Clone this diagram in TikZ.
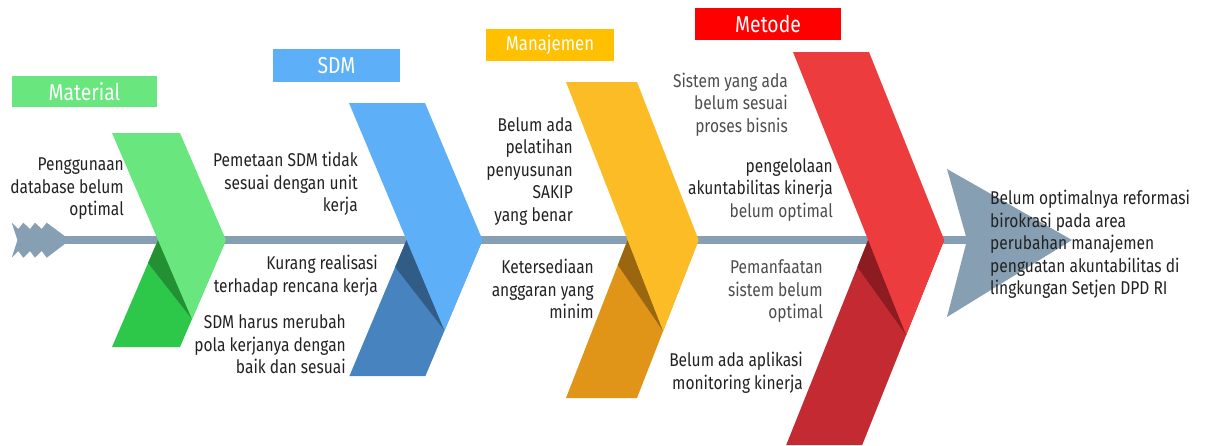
\documentclass[tikz,border=0pt]{standalone}
\usepackage{fontspec}
\setmainfont{Fira Sans}[FakeStretch=0.84]
\definecolor{spinec}{HTML}{879FB3}
\definecolor{txt}{HTML}{222222}
\definecolor{txtg}{HTML}{4D4D4D}
\definecolor{gA}{HTML}{6AE67E}\definecolor{gB}{HTML}{2DC84A}\definecolor{gC}{HTML}{229033}
\definecolor{bA}{HTML}{5DB0F7}\definecolor{bB}{HTML}{4783BF}\definecolor{bC}{HTML}{305C86}
\definecolor{yA}{HTML}{FBBC26}\definecolor{yB}{HTML}{E09418}\definecolor{yC}{HTML}{9A6610}
\definecolor{rA}{HTML}{EC3C3D}\definecolor{rB}{HTML}{C42A32}\definecolor{rC}{HTML}{8C1C22}
\definecolor{boxG}{HTML}{6AE67E}\definecolor{boxB}{HTML}{5DB0F7}
\definecolor{boxY}{HTML}{FFC000}\definecolor{boxR}{HTML}{FF0000}
% #1 Lt, #2 W, #3 H, #4 Hd, #5 s, #6 light, #7 mid, #8 dark, #9 shadow depth
\newcommand\fishchev[9]{%
  \pgfmathsetmacro\tipx{#1+#2+#5*#3}%
  \pgfmathsetmacro\bx{#1+#5*#3+#2/2}%
  \pgfmathsetmacro\by{240+#2/(2*#5)}%
  \fill[#7] ({\tipx-#2-#5*#4},{240+#4}) -- ({\tipx-#5*#4},{240+#4}) -- (\tipx,240) -- ({\tipx-#2},240) -- cycle;
  \fill[#8] ({\tipx-#2},240) -- ({\tipx-#2-#5*#9},{240+#9}) -- (\bx,\by) -- cycle;
  \fill[#6] (#1,{240-#3}) -- ({#1+#2},{240-#3}) -- (\tipx,240) -- (\bx,\by) -- cycle;
}
\tikzset{
  lbl/.style={font=\fontsize{18.5}{22.5}\selectfont, align=right, anchor=east, text=txt, inner sep=0pt},
  hlbl/.style={font=\fontsize{18.5}{22.5}\selectfont, align=left, anchor=west, text=txt, inner sep=0pt},
  cat/.style={font=\fontsize{23}{27}\selectfont, text=white, inner sep=0pt, anchor=center},
  spine/.style={draw=spinec, line width=8pt},
}
\begin{document}
\begin{tikzpicture}[x=1pt,y=-1pt]
\useasboundingbox (0,0) rectangle (1207,445);
% spine
\coordinate (tailtip) at (50,240);
\coordinate (headnotch) at (967,240);
\draw[spine] (tailtip) -- (headnotch);
% tail
\fill[spinec] (11.7,222.7) -- (18.3,229) -- (23.3,222.7) -- (30,229) -- (35,222.7) -- (41.7,229) -- (46.7,222.7) -- (70,240) -- (46.7,257.7) -- (41.7,251) -- (35,257.7) -- (30,251) -- (23.3,257.7) -- (18.3,251) -- (11.7,257.7) -- (17.5,240) -- cycle;
% head
\fill[spinec] (947,169) -- (1072,240) -- (947,317) -- (967,240) -- cycle;
% chevrons
\fishchev{112}{68}{107}{107}{0.43}{gA}{gB}{gC}{23}
\fishchev{349}{76}{137}{136}{0.42}{bA}{bB}{bC}{27}
\fishchev{566}{71}{158}{158}{0.39}{yA}{yB}{yC}{25}
\fishchev{793}{76}{188}{205}{0.40}{rA}{rB}{rC}{27}
% category boxes
\node[cat, fill=boxG, minimum width=145pt, minimum height=31pt] (material) at (84.5,91.5) {Material};
\node[cat, fill=boxB, minimum width=127pt, minimum height=33pt] (sdm) at (336.5,65.5) {SDM};
\node[cat, fill=boxY, minimum width=128pt, minimum height=32pt, font=\fontsize{20}{24}\selectfont] (manajemen) at (550,45) {Manajemen};
\node[cat, fill=boxR, minimum width=146pt, minimum height=32pt] (metode) at (768,24) {Metode};
% labels
\node[lbl] (l1) at (124,189) {Penggunaan\\database belum\\optimal};
\node[lbl] (l2) at (358,184) {Pemetaan SDM tidak\\sesuai dengan unit\\kerja};
\node[lbl] (l3) at (378,275.5) {Kurang realisasi\\terhadap rencana kerja};
\node[lbl] (l4) at (346,344.5) {SDM harus merubah\\pola kerjanya dengan\\baik dan sesuai};
\node[lbl] (l5) at (573,171.5) {Belum ada\\pelatihan\\penyusunan\\SAKIP\\yang benar};
\node[lbl] (l6) at (594,289) {Ketersediaan\\anggaran yang\\minim};
\node[lbl, text=txtg] (l7) at (788,104.5) {Sistem yang ada\\belum sesuai\\proses bisnis};
\node[lbl] (l8) at (833,190) {pengelolaan\\akuntabilitas kinerja\\\textcolor{txtg}{belum optimal}};
\node[lbl, text=txtg] (l9) at (823,291.5) {Pemanfaatan\\sistem belum\\optimal};
\node[lbl] (l10) at (803,372.5) {Belum ada aplikasi\\monitoring kinerja};
\node[hlbl] (effect) at (990,244.5) {Belum optimalnya reformasi\\birokrasi pada area\\perubahan manajemen\\penguatan akuntabilitas di\\lingkungan Setjen DPD RI};
\end{tikzpicture}
\end{document}
